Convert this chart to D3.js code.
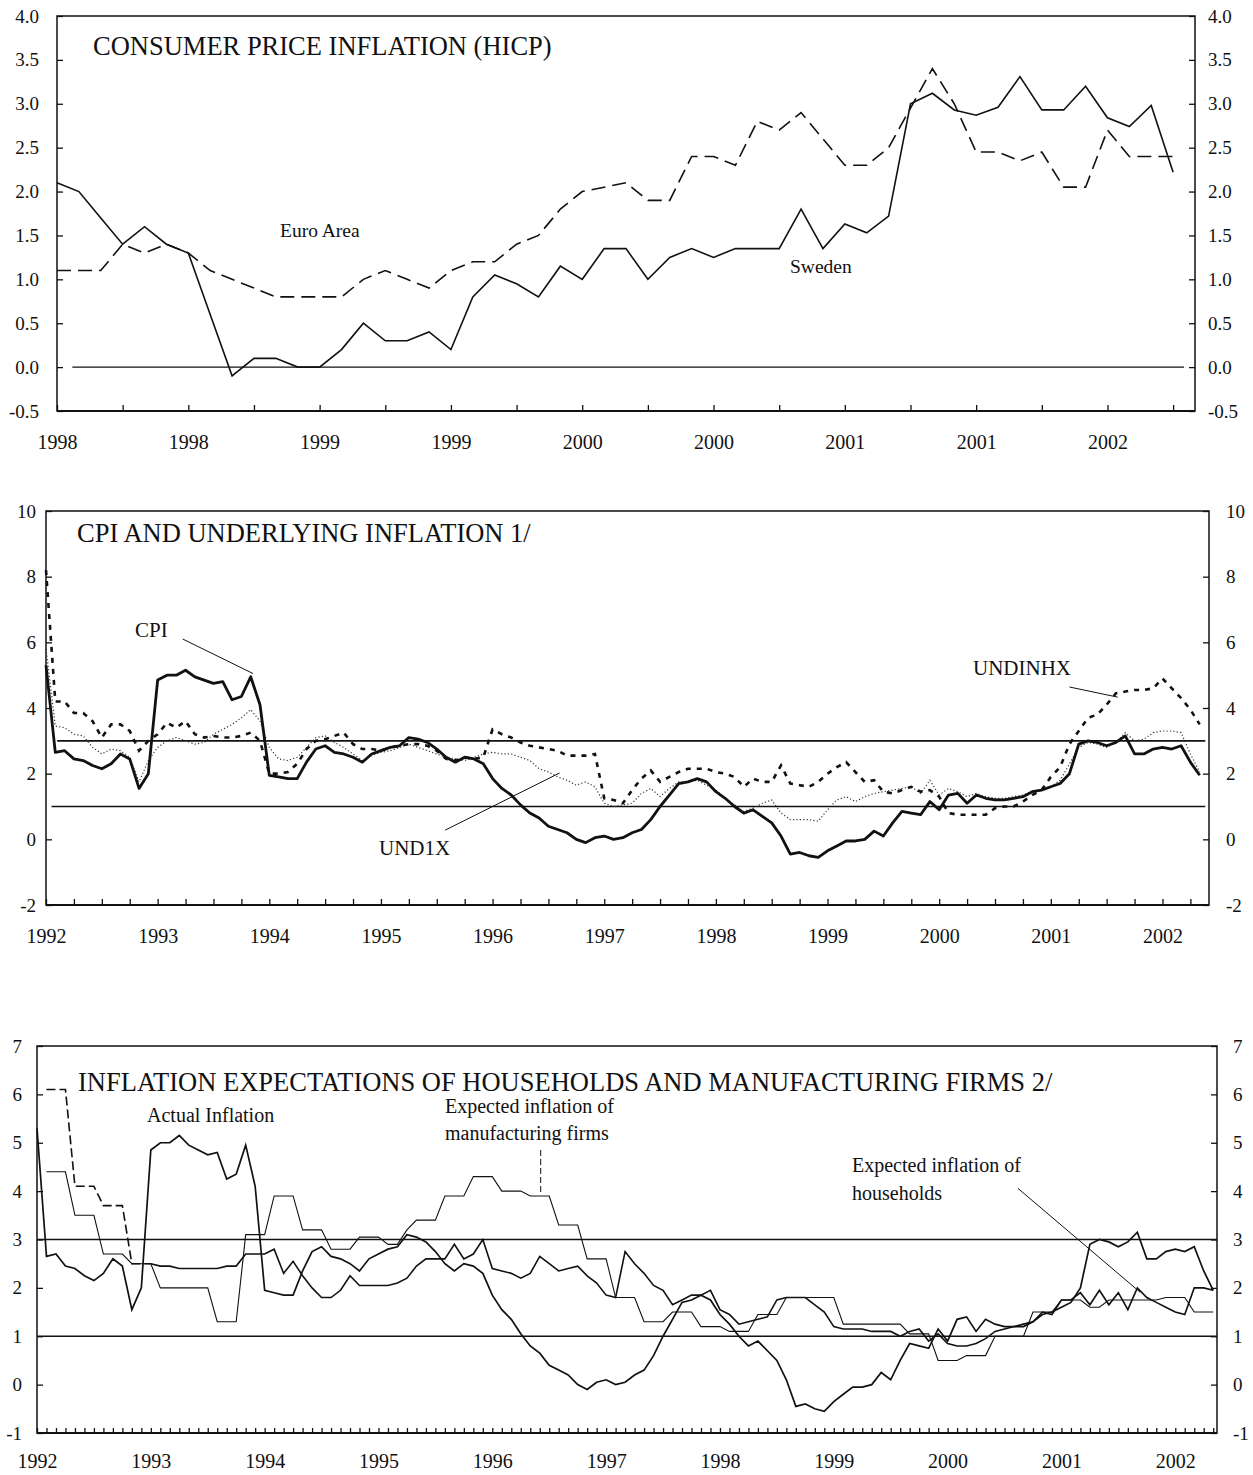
<!DOCTYPE html>
<html><head><meta charset="utf-8">
<script src="https://cdn.jsdelivr.net/npm/d3@7"></script>
<style>
body{margin:0;background:#fff;}
svg text{font-family:"Liberation Serif","Times New Roman",serif;fill:#111;}
</style></head><body>
<svg id="chart" width="1253" height="1475"></svg>
<script>
// ---------------- DATA ----------------
// Panel 1: monthly HICP, Jan 1998 .. Apr 2002
const p1XLabels = ["1998","1998","1999","1999","2000","2000","2001","2001","2002"];
const p1YTicks = [-0.5,0,0.5,1,1.5,2,2.5,3,3.5,4];
const sweden = [2.1,2.0,1.7,1.4,1.6,1.4,1.3,0.6,-0.1,0.1,0.1,0.0,
  0.0,0.2,0.5,0.3,0.3,0.4,0.2,0.8,1.05,0.95,0.8,1.15,
  1.0,1.35,1.35,1.0,1.25,1.35,1.25,1.35,1.35,1.35,1.8,1.35,
  1.63,1.53,1.72,3.0,3.12,2.93,2.87,2.96,3.31,2.93,2.93,3.2,
  2.84,2.74,2.98,2.22];
const euroArea = [1.1,1.1,1.1,1.4,1.3,1.4,1.3,1.1,1.0,0.9,0.8,0.8,
  0.8,0.8,1.0,1.1,1.0,0.9,1.1,1.2,1.2,1.4,1.5,1.8,
  2.0,2.05,2.1,1.9,1.9,2.4,2.4,2.3,2.8,2.7,2.9,2.6,
  2.3,2.3,2.5,2.95,3.4,3.0,2.45,2.45,2.35,2.45,2.05,2.05,
  2.7,2.4,2.4,2.4];

// Panels 2 & 3: monthly, Jan 1992 .. May 2002
const yearLabels = ["1992","1993","1994","1995","1996","1997","1998","1999","2000","2001","2002"];
const p2YTicks = [-2,0,2,4,6,8,10];
const p3YTicks = [-1,0,1,2,3,4,5,6,7];
const targetBand = [1,3];
const cpi = [5.3,2.65,2.7,2.45,2.4,2.25,2.15,2.3,2.6,2.45,1.55,2.0,
  4.85,5.0,5.0,5.15,4.95,4.85,4.75,4.8,4.25,4.35,4.95,4.1,
  1.95,1.9,1.85,1.85,2.35,2.75,2.85,2.65,2.6,2.5,2.35,2.6,
  2.7,2.8,2.85,3.1,3.05,2.95,2.75,2.5,2.35,2.5,2.45,2.3,
  1.85,1.55,1.35,1.05,0.8,0.65,0.4,0.3,0.2,0.0,-0.1,0.05,
  0.1,0.0,0.05,0.2,0.3,0.6,1.0,1.35,1.7,1.75,1.85,1.75,
  1.45,1.25,1.0,0.8,0.9,0.7,0.5,0.1,-0.45,-0.4,-0.5,-0.55,
  -0.35,-0.2,-0.05,-0.05,0.0,0.25,0.1,0.5,0.85,0.8,0.75,1.15,
  0.9,1.35,1.4,1.1,1.35,1.25,1.2,1.2,1.25,1.3,1.45,1.5,
  1.6,1.7,2.0,2.9,3.0,2.95,2.85,2.95,3.15,2.6,2.6,2.75,
  2.8,2.75,2.85,2.35,1.95];
const und1x = [5.8,3.45,3.4,3.2,3.15,2.8,2.6,2.75,2.7,2.5,1.75,2.4,
  2.8,3.0,3.1,3.0,2.9,2.95,3.2,3.35,3.5,3.7,3.95,3.6,
  2.8,2.45,2.4,2.5,2.8,3.1,3.15,2.95,2.8,2.6,2.4,2.55,
  2.65,2.7,2.8,2.9,2.8,2.7,2.6,2.5,2.45,2.4,2.5,2.6,
  2.65,2.6,2.6,2.5,2.4,2.15,2.05,1.9,1.8,1.65,1.75,1.6,
  1.1,1.0,1.05,1.1,1.4,1.55,1.3,1.55,1.75,1.75,1.8,1.65,
  1.5,1.25,1.05,0.85,0.95,1.1,1.2,0.8,0.6,0.6,0.6,0.55,
  0.9,1.2,1.3,1.15,1.3,1.4,1.45,1.5,1.55,1.6,1.4,1.8,
  1.35,1.55,1.45,1.3,1.4,1.3,1.25,1.25,1.3,1.35,1.45,1.5,
  1.6,1.8,2.3,2.8,2.95,2.9,2.8,2.95,3.25,3.0,3.05,3.25,
  3.3,3.3,3.25,2.6,2.05];
const undinhx = [8.2,4.2,4.2,3.85,3.85,3.6,3.1,3.5,3.5,3.3,2.7,3.0,
  3.2,3.55,3.4,3.6,3.2,3.1,3.15,3.1,3.1,3.15,3.25,3.0,
  2.0,2.0,2.05,2.3,2.75,3.0,3.05,3.15,3.25,2.9,2.75,2.75,
  2.7,2.8,2.85,2.9,2.9,2.85,2.7,2.45,2.4,2.5,2.45,2.5,
  3.35,3.2,3.1,2.95,2.85,2.8,2.75,2.7,2.55,2.55,2.55,2.6,
  1.25,1.2,1.1,1.5,1.85,2.1,1.75,1.9,2.05,2.15,2.15,2.15,
  2.05,2.0,1.9,1.6,1.85,1.75,1.75,2.25,1.7,1.65,1.6,1.75,
  2.0,2.2,2.35,2.05,1.75,1.8,1.45,1.4,1.5,1.6,1.45,1.5,
  1.3,0.8,0.75,0.75,0.75,0.75,0.95,1.0,1.0,1.15,1.35,1.5,
  1.9,2.2,2.9,3.3,3.7,3.8,4.1,4.45,4.5,4.55,4.55,4.6,
  4.9,4.6,4.3,3.95,3.5];
const households = [null,6.1,6.1,6.1,4.1,4.1,4.1,3.7,3.7,3.7,2.5,2.5,
  2.5,2.45,2.45,2.4,2.4,2.4,2.4,2.4,2.45,2.45,2.7,2.7,
  2.7,2.8,2.3,2.55,2.25,2.0,1.8,1.8,1.95,2.25,2.05,2.05,
  2.05,2.05,2.1,2.2,2.45,2.6,2.6,2.6,2.9,2.6,2.7,3.0,
  2.4,2.35,2.3,2.2,2.3,2.65,2.5,2.35,2.4,2.45,2.25,2.1,
  1.85,1.8,2.75,2.5,2.3,2.05,1.95,1.65,1.75,1.85,1.85,1.95,
  1.55,1.45,1.25,1.3,1.35,1.4,1.75,1.8,1.8,1.8,1.65,1.5,
  1.2,1.15,1.15,1.15,1.1,1.1,1.1,1.0,1.1,1.15,0.9,1.05,
  0.85,0.8,0.8,0.85,0.95,1.1,1.15,1.2,1.2,1.3,1.5,1.45,
  1.75,1.75,1.9,1.65,1.95,1.65,1.9,1.55,2.0,1.8,1.7,1.6,
  1.5,1.45,2.0,2.0,1.95];
const firms = [null,4.4,4.4,4.4,3.5,3.5,3.5,2.7,2.7,2.7,2.5,2.5,
  2.5,2.0,2.0,2.0,2.0,2.0,2.0,1.3,1.3,1.3,3.1,3.1,
  3.1,3.9,3.9,3.9,3.2,3.2,3.2,2.8,2.8,2.8,3.05,3.05,
  3.05,2.9,2.9,3.2,3.4,3.4,3.4,3.9,3.9,3.9,4.3,4.3,
  4.3,4.0,4.0,4.0,3.9,3.9,3.9,3.3,3.3,3.3,2.6,2.6,
  2.6,1.8,1.8,1.8,1.3,1.3,1.3,1.5,1.5,1.5,1.2,1.2,
  1.2,1.1,1.1,1.1,1.45,1.45,1.45,1.8,1.8,1.8,1.8,1.8,
  1.8,1.25,1.25,1.25,1.25,1.25,1.25,1.25,1.05,1.05,1.05,0.5,
  0.5,0.5,0.6,0.6,0.6,1.0,1.0,1.0,1.0,1.5,1.5,1.5,
  1.75,1.75,1.75,1.6,1.6,1.75,1.75,1.75,1.75,1.75,1.75,1.8,
  1.8,1.8,1.5,1.5,1.5];

// ---------------- DRAWING ----------------
const svg = d3.select("#chart");
svg.append("rect").attr("width",1253).attr("height",1475).attr("fill","#fff");
const INK = "#111";
const fmt1 = d => d3.format(".1f")(d).replace("\u2212","-");
const fmt0 = d => String(d);

function styleAxis(g, size){
  g.select(".domain").remove();
  g.selectAll(".tick line").attr("stroke",INK).attr("stroke-width",1.3);
  g.selectAll(".tick text").attr("font-size",size).attr("fill",INK)
    .style("font-family",'"Liberation Serif","Times New Roman",serif');
}
function frame(b, bw){
  svg.append("rect").attr("x",b.left).attr("y",b.top)
    .attr("width",b.right-b.left).attr("height",b.bottom-b.top)
    .attr("fill","none").attr("stroke",INK).attr("stroke-width",1.5);
  svg.append("line").attr("x1",b.left).attr("x2",b.right)
    .attr("y1",b.bottom).attr("y2",b.bottom).attr("stroke",INK).attr("stroke-width",bw);
}
function txt(x,y,s,size){
  return svg.append("text").attr("x",x).attr("y",y).attr("font-size",size).text(s);
}
function leader(x,y,a,b,c,d,dash){
  const l = svg.append("line").attr("x1",x(a)).attr("y1",y(b)).attr("x2",x(c)).attr("y2",y(d))
    .attr("stroke",INK).attr("stroke-width",1);
  if(dash) l.attr("stroke-dasharray",dash);
}

// ===== Panel 1 =====
const b1 = {left:57,right:1195,top:16,bottom:411};
const x1 = d3.scaleLinear().domain([0,52]).range([b1.left,b1.right]);
const y1 = d3.scaleLinear().domain([-0.5,4]).range([b1.bottom,b1.top]);
frame(b1,2.2);
styleAxis(svg.append("g").attr("transform",`translate(${b1.left},0)`)
  .call(d3.axisLeft(y1).tickValues(p1YTicks).tickSize(-6).tickPadding(18).tickFormat(fmt1)),19);
styleAxis(svg.append("g").attr("transform",`translate(${b1.right},0)`)
  .call(d3.axisRight(y1).tickValues(p1YTicks).tickSize(-6).tickPadding(13).tickFormat(fmt1)),19);
styleAxis(svg.append("g").attr("transform",`translate(0,${b1.bottom})`)
  .call(d3.axisBottom(x1).tickValues(d3.range(0,52,3)).tickSize(-6).tickPadding(24)
  .tickFormat(d => d%6===0 ? p1XLabels[d/6] : "")),20);
svg.append("line").attr("x1",x1(0.7)).attr("x2",x1(51.5)).attr("y1",y1(0)).attr("y2",y1(0))
  .attr("stroke",INK).attr("stroke-width",1.2);
const line1 = d3.line().x((d,i)=>x1(i)).y(d=>y1(d));
svg.append("path").datum(euroArea).attr("d",line1).attr("fill","none")
  .attr("stroke",INK).attr("stroke-width",1.6).attr("stroke-dasharray","14,7");
svg.append("path").datum(sweden).attr("d",line1).attr("fill","none")
  .attr("stroke",INK).attr("stroke-width",1.6);
txt(93,55,"CONSUMER PRICE INFLATION (HICP)",26.5);
txt(280,237,"Euro Area",19.5);
txt(790,273,"Sweden",19.5);

// ===== Panel 2 =====
const b2 = {left:46,right:1209,top:511,bottom:905};
const x2 = d3.scaleLinear().domain([0,125]).range([b2.left,b2.right]);
const y2 = d3.scaleLinear().domain([-2,10]).range([b2.bottom,b2.top]);
frame(b2,2.2);
styleAxis(svg.append("g").attr("transform",`translate(${b2.left},0)`)
  .call(d3.axisLeft(y2).tickValues(p2YTicks).tickSize(-6).tickPadding(10).tickFormat(fmt0)),19);
styleAxis(svg.append("g").attr("transform",`translate(${b2.right},0)`)
  .call(d3.axisRight(y2).tickValues(p2YTicks).tickSize(-6).tickPadding(17).tickFormat(fmt0)),19);
styleAxis(svg.append("g").attr("transform",`translate(0,${b2.bottom})`)
  .call(d3.axisBottom(x2).tickValues(d3.range(0,125,3)).tickSize(-6).tickPadding(24)
  .tickFormat(d => d%12===0 ? yearLabels[d/12] : "")),20);
targetBand.forEach(v=>{
  svg.append("line").attr("x1",x2(v===3?1.2:0.6)).attr("x2",x2(124.6)).attr("y1",y2(v)).attr("y2",y2(v))
    .attr("stroke",INK).attr("stroke-width",1.6);
});
const line2 = d3.line().x((d,i)=>x2(i)).y(d=>y2(d));
svg.append("path").datum(und1x).attr("d",line2).attr("fill","none")
  .attr("stroke","#333").attr("stroke-width",1.2).attr("stroke-dasharray","1.2,2.2");
svg.append("path").datum(undinhx).attr("d",line2).attr("fill","none")
  .attr("stroke",INK).attr("stroke-width",2.6).attr("stroke-dasharray","5,6");
svg.append("path").datum(cpi).attr("d",line2).attr("fill","none")
  .attr("stroke",INK).attr("stroke-width",2.8).attr("stroke-linejoin","round");
txt(77,542,"CPI AND UNDERLYING INFLATION 1/",26.5);
txt(135,637,"CPI",21);
leader(x2,y2,14.7,6.1,22.25,5.05);
txt(973,675,"UNDINHX",21);
leader(x2,y2,110,4.64,115.2,4.33);
txt(379,855,"UND1X",21);
leader(x2,y2,42.9,0.28,55.2,2.02);

// ===== Panel 3 =====
const b3 = {left:37,right:1217,top:1046,bottom:1433};
const x3 = d3.scaleLinear().domain([0,124.4]).range([b3.left,b3.right]);
const y3 = d3.scaleLinear().domain([-1,7]).range([b3.bottom,b3.top]);
frame(b3,2.2);
styleAxis(svg.append("g").attr("transform",`translate(${b3.left},0)`)
  .call(d3.axisLeft(y3).tickValues(p3YTicks).tickSize(-6).tickPadding(15).tickFormat(fmt0)),19);
styleAxis(svg.append("g").attr("transform",`translate(${b3.right},0)`)
  .call(d3.axisRight(y3).tickValues(p3YTicks).tickSize(-6).tickPadding(16).tickFormat(fmt0)),19);
styleAxis(svg.append("g").attr("transform",`translate(0,${b3.bottom})`)
  .call(d3.axisBottom(x3).tickValues(d3.range(0,125,1)).tickSize(-5).tickPadding(21)
  .tickFormat(d => d%12===0 ? yearLabels[d/12] : "")),20);
targetBand.forEach(v=>{
  svg.append("line").attr("x1",b3.left).attr("x2",b3.right).attr("y1",y3(v)).attr("y2",y3(v))
    .attr("stroke",INK).attr("stroke-width",1.3);
});
const line3 = d3.line().x((d,i)=>x3(i)).y(d=>y3(d));
svg.append("path").datum(firms).attr("d",line3.defined(d=>d!=null)).attr("fill","none")
  .attr("stroke",INK).attr("stroke-width",1.1);
const hEarly = d3.line().defined((d,i)=>d!=null && i<=12).x((d,i)=>x3(i)).y(d=>y3(d));
const hLate = d3.line().defined((d,i)=>d!=null && i>=12).x((d,i)=>x3(i)).y(d=>y3(d));
svg.append("path").datum(households).attr("d",hEarly).attr("fill","none")
  .attr("stroke",INK).attr("stroke-width",1.6).attr("stroke-dasharray","9,4");
svg.append("path").datum(households).attr("d",hLate).attr("fill","none")
  .attr("stroke",INK).attr("stroke-width",1.6);
svg.append("path").datum(cpi).attr("d",d3.line().x((d,i)=>x3(i)).y(d=>y3(d))).attr("fill","none")
  .attr("stroke",INK).attr("stroke-width",1.7);
txt(78,1091,"INFLATION EXPECTATIONS OF HOUSEHOLDS AND MANUFACTURING FIRMS 2/",26.5);
txt(147,1122,"Actual Inflation",20);
txt(445,1113,"Expected inflation of",20);
txt(445,1140,"manufacturing firms",20);
leader(x3,y3,53.1,4.85,53.1,3.98,"6,3");
txt(852,1172,"Expected inflation of",20);
txt(852,1200,"households",20);
leader(x3,y3,103.4,4.06,116.3,1.91);
</script></body></html>
